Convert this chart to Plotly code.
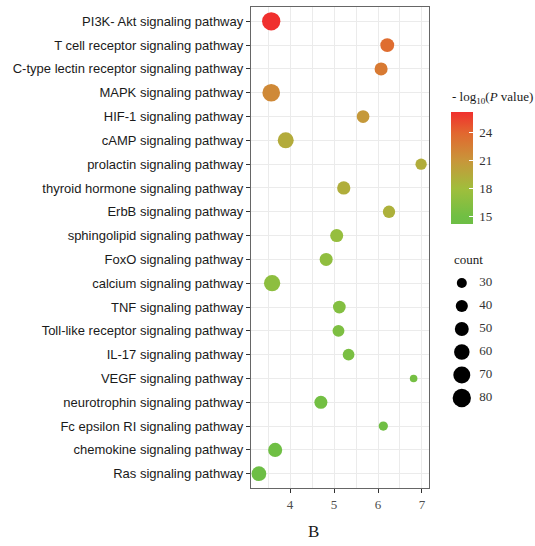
import numpy as np
import plotly.graph_objects as go

pathways = [
    "PI3K- Akt signaling pathway",
    "T cell receptor signaling pathway",
    "C-type lectin receptor signaling pathway",
    "MAPK signaling pathway",
    "HIF-1 signaling pathway",
    "cAMP signaling pathway",
    "prolactin signaling pathway",
    "thyroid hormone signaling pathway",
    "ErbB signaling pathway",
    "sphingolipid signaling pathway",
    "FoxO signaling pathway",
    "calcium signaling pathway",
    "TNF signaling pathway",
    "Toll-like receptor signaling pathway",
    "IL-17 signaling pathway",
    "VEGF signaling pathway",
    "neurotrophin signaling pathway",
    "Fc epsilon RI signaling pathway",
    "chemokine signaling pathway",
    "Ras signaling pathway",
]
enrichment = [3.57, 6.21, 6.07, 3.57, 5.66, 3.90, 6.98, 5.22, 6.25, 5.06,
              4.82, 3.59, 5.12, 5.10, 5.33, 6.81, 4.70, 6.12, 3.66, 3.29]
counts = [80, 50, 45, 75, 43, 63, 36, 46, 41, 45,
          45, 65, 43, 39, 38, 21, 45, 27, 51, 55]
neglogp = [26.25, 23.6, 22.8, 21.8, 20.8, 19.4, 19.3, 19.2, 19.0, 17.4,
           17.0, 16.8, 16.2, 15.8, 15.6, 15.3, 15.2, 15.0, 14.8, 14.2]
legend_counts = [30, 40, 50, 60, 70, 80]
x_ticks = [4, 5, 6, 7]
cb_ticks = [15, 18, 21, 24]

# colour stops (value -> colour)
cb_stop_values = [14.2, 15.0, 18.0, 21.0, 24.0, 26.25]
cb_stop_colors = ["#6DBE45", "#70BF44", "#A0BE3C", "#C8963A", "#E2672F", "#F0302E"]


def size_px(c):
    return np.sqrt(100 + 4.7 * (np.asarray(c, float) - 30))


vmin, vmax = min(neglogp), max(neglogp)
colorscale = [[(v - vmin) / (vmax - vmin), c] for v, c in zip(cb_stop_values, cb_stop_colors)]
colorscale[0][0] = 0.0
colorscale[-1][0] = 1.0

W, H = 535, 546
ml, mr, mt, mb = 251, 0, 7, 58
pw = W - ml - mr
ph = H - mt - mb
plot_right = 429


def px_x(p):
    return (p - ml) / pw


def px_y(p):
    return 1 - (p - mt) / ph


serif = "Liberation Serif"
sans = "Liberation Sans"

fig = go.Figure()
fig.add_trace(go.Scatter(
    x=enrichment, y=pathways, mode="markers",
    marker=dict(size=size_px(counts), color=neglogp, colorscale=colorscale,
                cmin=vmin, cmax=vmax, opacity=1,
                line=dict(width=0),
                colorbar=dict(x=px_x(451), xanchor="left", y=px_y(168), yanchor="middle",
                              thickness=22, len=112, lenmode="pixels",
                              xpad=0, ypad=0, outlinewidth=0,
                              tickvals=cb_ticks,
                              ticktext=["\u00a0" + str(v) for v in cb_ticks],
                              ticks="inside", tickcolor="white",
                              ticklen=4, tickwidth=1,
                              tickfont=dict(family=serif, size=13, color="#333333"))),
    showlegend=False, hoverinfo="skip"))

# size legend
fig.add_trace(go.Scatter(
    x=[0.18] * len(legend_counts), y=legend_counts, mode="markers",
    marker=dict(size=size_px(legend_counts), color="#000000", opacity=1, line=dict(width=0)),
    xaxis="x2", yaxis="y2", showlegend=False, hoverinfo="skip"))
fig.add_trace(go.Scatter(
    x=[0.47] * len(legend_counts), y=legend_counts, mode="text",
    text=[str(c) for c in legend_counts], textposition="middle right",
    textfont=dict(family=serif, size=13, color="#333333"),
    xaxis="x2", yaxis="y2", showlegend=False, hoverinfo="skip"))

fig.update_layout(
    width=W, height=H, margin=dict(l=ml, r=mr, t=mt, b=mb),
    paper_bgcolor="white", plot_bgcolor="white",
    xaxis=dict(domain=[0, px_x(plot_right)], range=[3.11, 7.16],
               tickvals=x_ticks, ticks="outside", ticklen=4, tickcolor="#333333",
               tickfont=dict(family=serif, size=13, color="#4d4d4d"),
               showgrid=True, gridcolor="#EBEBEB", gridwidth=1.2,
               minor=dict(dtick=0.5, tick0=3, showgrid=True, gridcolor="#EBEBEB", gridwidth=1.2),
               showline=True, mirror=True, linecolor="#666666", linewidth=1.3,
               zeroline=False, fixedrange=True),
    yaxis=dict(type="category", categoryorder="array", categoryarray=pathways,
               range=[19.6, -0.6], ticks="outside", ticklen=4, tickcolor="#333333",
               tickfont=dict(family=sans, size=13, color="#1a1a1a"),
               showgrid=True, gridcolor="#EBEBEB", gridwidth=1.2,
               showline=True, mirror=True, linecolor="#666666", linewidth=1.3,
               zeroline=False, fixedrange=True),
    xaxis2=dict(domain=[px_x(451), px_x(511)], range=[0, 1], visible=False,
                anchor="y2", fixedrange=True),
    yaxis2=dict(domain=[px_y(421), px_y(260)], range=[90, 20], visible=False,
                anchor="x2", fixedrange=True),
    annotations=[
        dict(text="- log<sub>10</sub>(<i>P</i> value)", x=px_x(450), y=px_y(97),
             xref="paper", yref="paper", xanchor="left", yanchor="middle",
             showarrow=False, font=dict(family=serif, size=13, color="#1a1a1a")),
        dict(text="count", x=px_x(452), y=px_y(259), xref="paper", yref="paper",
             xanchor="left", yanchor="middle", showarrow=False,
             font=dict(family=serif, size=13, color="#1a1a1a")),
        dict(text="B", x=px_x(313), y=px_y(531), xref="paper", yref="paper",
             xanchor="center", yanchor="middle", showarrow=False,
             font=dict(family=serif, size=17, color="#1a1a1a")),
    ],
)

fig.write_html("out.html", config={"displayModeBar": False},
               post_script="document.body.style.margin='0';document.body.style.overflow='hidden';")
